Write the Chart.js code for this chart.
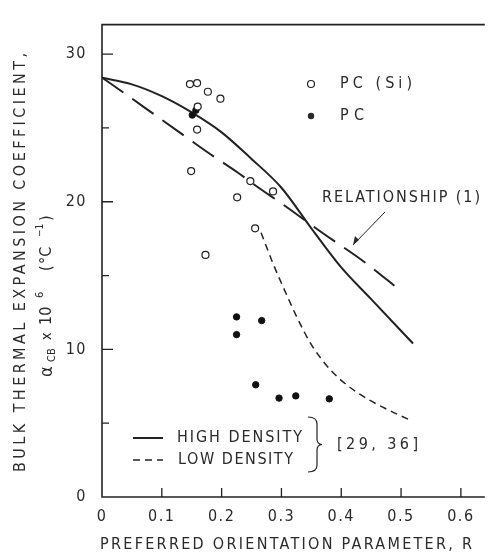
<!DOCTYPE html>
<html>
<head>
<meta charset="utf-8">
<script src="https://cdn.jsdelivr.net/npm/chart.js@4"></script>
<style>
  html, body { margin: 0; padding: 0; background: #fff; }
</style>
</head>
<body>
<canvas id="chart" width="490" height="556"></canvas>
<script>
// axis ticks
const xTickValues = [0, 0.1, 0.2, 0.3, 0.4, 0.5, 0.6];
const xTickLabels = ["0", "0.1", "0.2", "0.3", "0.4", "0.5", "0.6"];
const yTickValues = [0, 10, 20, 30];
const yTickLabels = ["0", "10", "20", "30"];
const yMinorTicks = [5, 15, 25];

// PC (Si) - open circles
const pcSiR = [0.147, 0.159, 0.177, 0.198, 0.160, 0.159, 0.149, 0.226, 0.173, 0.248, 0.286, 0.256];
const pcSiAlpha = [27.97, 28.04, 27.45, 26.98, 26.45, 24.89, 22.08, 20.3, 16.4, 21.4, 20.7, 18.2];

// PC - filled circles
const pcR = [0.151, 0.157, 0.225, 0.225, 0.267, 0.257, 0.296, 0.324, 0.380];
const pcAlpha = [25.87, 26.2, 12.2, 11.0, 11.95, 7.6, 6.7, 6.85, 6.65];

// high density [29, 36] - solid
const highR = [0, 0.05, 0.10, 0.15, 0.20, 0.25, 0.30, 0.35, 0.40, 0.45, 0.52];
const highAlpha = [28.4, 27.95, 27.15, 26.05, 24.7, 22.9, 20.95, 18.2, 15.55, 13.4, 10.4];

// low density [29, 36] - short dashes
const lowR = [0.266, 0.286, 0.307, 0.327, 0.349, 0.372, 0.398, 0.435, 0.473, 0.514];
const lowAlpha = [17.9, 15.81, 13.85, 12.08, 10.39, 9.08, 7.97, 6.86, 6.01, 5.23];

// relationship (1) - long dashes
const relR = [0, 0.041, 0.082, 0.132, 0.182, 0.228, 0.260, 0.299, 0.370, 0.438, 0.499];
const relAlpha = [28.41, 27.25, 26.07, 24.63, 23.2, 21.95, 21.0, 19.92, 17.85, 15.94, 13.98];

const INK = "#222";
const TEXT = "#2a2a2a";
const FAMILY = '"DejaVu Sans Condensed", "Liberation Sans Narrow", "DejaVu Sans", sans-serif';

function toPoints(xs, ys) {
  return xs.map((x, i) => ({ x, y: ys[i] }));
}

// draw text stretched by letter spacing to a given width, left aligned
function spacedText(ctx, text, x, y, width) {
  ctx.letterSpacing = "0px";
  const natural = ctx.measureText(text).width;
  const sp = text.length > 1 ? (width - natural) / (text.length - 1) : 0;
  ctx.letterSpacing = sp + "px";
  ctx.textAlign = "left";
  ctx.fillText(text, x, y);
  ctx.letterSpacing = "0px";
}

const paperPlugin = {
  id: "paper",
  beforeDraw(chart) {
    chart.ctx.letterSpacing = "1.5px";
  },
  afterDraw(chart) {
    const { ctx, chartArea: a, scales } = chart;
    const xs = scales.x, ys = scales.y;
    ctx.save();
    ctx.strokeStyle = INK;
    ctx.fillStyle = TEXT;

    // frame: top, left, bottom
    ctx.lineWidth = 1.6;
    ctx.beginPath();
    ctx.moveTo(a.right, a.top);
    ctx.lineTo(a.left, a.top);
    ctx.lineTo(a.left, a.bottom);
    ctx.lineTo(a.right, a.bottom);
    ctx.stroke();

    // inward ticks
    ctx.lineWidth = 1.3;
    ctx.beginPath();
    xTickValues.slice(1).forEach((v) => {
      const px = xs.getPixelForValue(v);
      ctx.moveTo(px, a.bottom);
      ctx.lineTo(px, a.bottom - 9);
    });
    yTickValues.slice(1).forEach((v) => {
      const py = ys.getPixelForValue(v);
      ctx.moveTo(a.left, py);
      ctx.lineTo(a.left + 11, py);
    });
    yMinorTicks.forEach((v) => {
      const py = ys.getPixelForValue(v);
      ctx.moveTo(a.left, py);
      ctx.lineTo(a.left + 7, py);
    });
    ctx.stroke();

    ctx.textBaseline = "middle";
    ctx.font = "16px " + FAMILY;

    // x axis title
    spacedText(ctx, "PREFERRED ORIENTATION PARAMETER, R", 100, 545, 372);

    // y axis title, two rotated lines
    ctx.save();
    ctx.translate(21, 472);
    ctx.rotate(-Math.PI / 2);
    spacedText(ctx, "BULK THERMAL EXPANSION COEFFICIENT,", 0, 0, 419);
    ctx.restore();

    ctx.save();
    ctx.translate(47, 377);
    ctx.rotate(-Math.PI / 2);
    const piece = (t, off, size, dy) => {
      ctx.font = size + "px " + FAMILY;
      ctx.fillText(t, off, dy);
    };
    ctx.textAlign = "left";
    piece("\u03b1", 0, 18, 0);
    piece("CB", 15, 11, 5);
    piece("x", 37, 14, 0);
    piece("10", 52, 16, 0);
    piece("6", 79, 11, -7);
    piece("(", 106, 16, 0);
    piece("\u00b0C", 113, 16, 0);
    piece("\u22121", 140, 10, -7);
    piece(")", 156, 16, 0);
    ctx.restore();

    ctx.font = "16px " + FAMILY;

    // marker legend
    ctx.lineWidth = 1.2;
    ctx.beginPath();
    ctx.arc(311, 84, 3.5, 0, Math.PI * 2);
    ctx.stroke();
    ctx.beginPath();
    ctx.arc(311, 116, 3.2, 0, Math.PI * 2);
    ctx.fill();
    spacedText(ctx, "PC (Si)", 340, 84, 72);
    spacedText(ctx, "PC", 340, 116, 24);

    // relationship label + arrow
    spacedText(ctx, "RELATIONSHIP (1)", 322, 198, 158);
    ctx.lineWidth = 1;
    ctx.beginPath();
    ctx.moveTo(385, 212);
    ctx.lineTo(353, 245);
    ctx.stroke();
    ctx.beginPath();
    ctx.moveTo(353, 245);
    ctx.lineTo(355, 236);
    ctx.lineTo(359, 240);
    ctx.closePath();
    ctx.fill();

    // line legend
    ctx.lineWidth = 2;
    ctx.beginPath();
    ctx.moveTo(133, 438);
    ctx.lineTo(163, 438);
    ctx.stroke();
    ctx.lineWidth = 1.5;
    ctx.setLineDash([7, 5]);
    ctx.beginPath();
    ctx.moveTo(133, 460);
    ctx.lineTo(163, 460);
    ctx.stroke();
    ctx.setLineDash([]);
    spacedText(ctx, "HIGH DENSITY", 177, 438, 125);
    spacedText(ctx, "LOW DENSITY", 178, 460, 115);

    // brace
    ctx.lineWidth = 1.2;
    ctx.beginPath();
    ctx.moveTo(308, 417);
    ctx.quadraticCurveTo(317, 417, 317, 424);
    ctx.lineTo(317, 439);
    ctx.quadraticCurveTo(317, 444, 322, 444.5);
    ctx.quadraticCurveTo(317, 445, 317, 450);
    ctx.lineTo(317, 465);
    ctx.quadraticCurveTo(317, 472, 308, 472);
    ctx.stroke();
    spacedText(ctx, "[29, 36]", 337, 445, 81);

    ctx.restore();
  },
};

new Chart(document.getElementById("chart"), {
  type: "scatter",
  data: {
    datasets: [
      {
        label: "PC (Si)",
        data: toPoints(pcSiR, pcSiAlpha),
        pointRadius: 3.5,
        pointBackgroundColor: "#fff",
        pointBorderColor: INK,
        pointBorderWidth: 1.2,
      },
      {
        label: "PC",
        data: toPoints(pcR, pcAlpha),
        pointRadius: 3.2,
        pointBackgroundColor: "#111",
        pointBorderColor: "#111",
        pointBorderWidth: 1,
      },
      {
        label: "High density",
        data: toPoints(highR, highAlpha),
        showLine: true,
        borderColor: INK,
        borderWidth: 2,
        pointRadius: 0,
        cubicInterpolationMode: "monotone",
      },
      {
        label: "Low density",
        data: toPoints(lowR, lowAlpha),
        showLine: true,
        borderColor: INK,
        borderWidth: 1.5,
        borderDash: [7, 5],
        pointRadius: 0,
        cubicInterpolationMode: "monotone",
      },
      {
        label: "Relationship (1)",
        data: toPoints(relR, relAlpha),
        showLine: true,
        borderColor: INK,
        borderWidth: 2,
        borderDash: [26, 11],
        pointRadius: 0,
        cubicInterpolationMode: "monotone",
      },
    ],
  },
  options: {
    responsive: false,
    animation: false,
    layout: { padding: { top: 7, right: 0, bottom: 0, left: 0 } },
    plugins: { legend: { display: false }, tooltip: { enabled: false } },
    scales: {
      x: {
        type: "linear",
        min: 0,
        max: 0.64,
        afterBuildTicks: (s) => { s.ticks = xTickValues.map((v) => ({ value: v })); },
        afterFit: (s) => { s.height = 59; },
        grid: { display: false, drawTicks: false },
        border: { display: false },
        ticks: {
          color: TEXT,
          font: { family: FAMILY, size: 16 },
          padding: 10,
          maxRotation: 0,
          autoSkip: false,
          callback: (v, i) => xTickLabels[i],
        },
      },
      y: {
        type: "linear",
        min: 0,
        max: 32,
        afterBuildTicks: (s) => { s.ticks = yTickValues.map((v) => ({ value: v })); },
        afterFit: (s) => { s.width = 102; },
        grid: { display: false, drawTicks: false },
        border: { display: false },
        ticks: {
          color: TEXT,
          font: { family: FAMILY, size: 16 },
          padding: 15,
          autoSkip: false,
          callback: (v, i) => yTickLabels[i],
        },
      },
    },
  },
  plugins: [paperPlugin],
});
</script>
</body>
</html>
